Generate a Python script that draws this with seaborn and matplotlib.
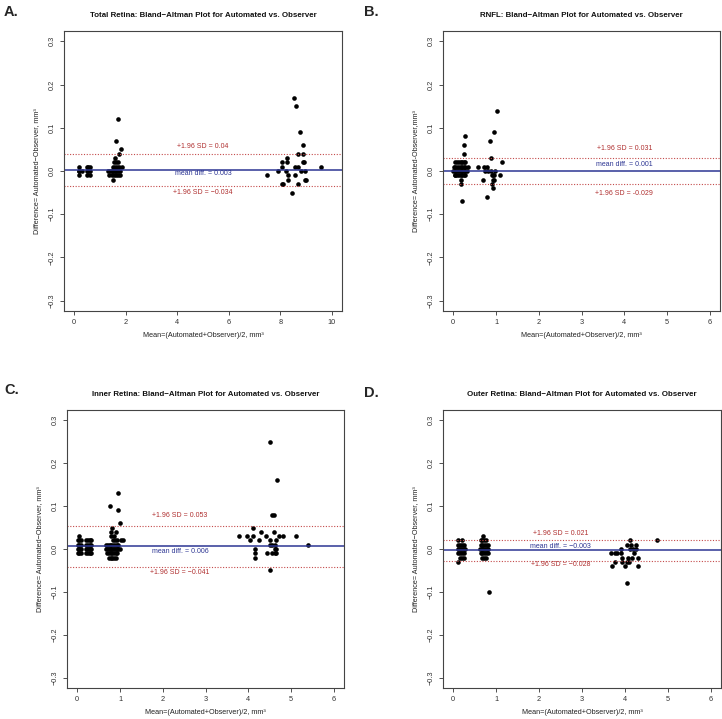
import numpy as np
import pandas as pd
import matplotlib.pyplot as plt
import seaborn as sns

# panel A - total retina
a_x = [0.2, 0.2, 0.2, 0.2, 0.3, 0.5, 0.5, 0.5, 0.55, 0.55, 0.6, 0.6, 0.6,
       1.7, 1.63, 1.8, 1.72, 1.6, 1.55, 1.62, 1.68, 1.5, 1.58, 1.65, 1.75, 1.85,
       1.3, 1.4, 1.45, 1.52, 1.57, 1.63, 1.7, 1.78, 1.35, 1.45, 1.55, 1.62, 1.7,
       1.78, 1.52,
       7.5, 7.9, 8.05, 8.05, 8.05, 8.1, 8.27, 8.27, 8.22, 8.3, 8.3, 8.47, 8.53,
       8.61, 8.58, 8.58, 8.7, 8.76, 8.9, 8.7, 8.9, 8.88, 8.93, 8.8, 8.95, 8.7,
       8.95, 9.0, 9.57]
a_y = [0.01, 0.0, 0.0, -0.01, 0.0, 0.01, 0.0, -0.01, 0.01, 0.0, 0.01, 0.0, -0.01,
       0.12, 0.07, 0.05, 0.04, 0.03, 0.02, 0.02, 0.02, 0.01, 0.01, 0.01, 0.01, 0.01,
       0.0, 0.0, 0.0, 0.0, 0.0, 0.0, 0.0, 0.0, -0.01, -0.01, -0.01, -0.01, -0.01,
       -0.01, -0.02,
       -0.01, 0.0, 0.02, 0.01, -0.03, -0.03, 0.03, 0.02, 0.0, -0.01, -0.02, -0.05, 0.17,
       0.15, -0.01, 0.01, 0.01, 0.09, 0.06, 0.04, 0.04, 0.02, 0.02, 0.0, 0.0, -0.03,
       -0.02, -0.02, 0.01]

# panel B - RNFL
b_x = [0.05, 0.09, 0.13, 0.17, 0.2, 0.24, 0.28,
       0.01, 0.05, 0.09, 0.13, 0.17, 0.2, 0.24, 0.28, 0.34,
       0.0, 0.05, 0.09, 0.13, 0.17, 0.2, 0.24, 0.28, 0.32,
       0.03, 0.05, 0.09, 0.13, 0.17, 0.2, 0.24, 0.28,
       0.17, 0.17, 0.2, 0.26, 0.25, 0.28,
       0.58, 0.69, 0.71, 0.75, 0.8, 0.8, 0.82, 0.86, 0.88, 0.88, 0.9, 0.9, 0.92,
       0.94, 0.94, 0.95, 0.96, 0.97, 0.96, 1.02, 1.1, 1.15]
b_y = [0.02, 0.02, 0.02, 0.02, 0.02, 0.02, 0.02,
       0.01, 0.01, 0.01, 0.01, 0.01, 0.01, 0.01, 0.01, 0.01,
       0.0, 0.0, 0.0, 0.0, 0.0, 0.0, 0.0, 0.0, 0.0,
       -0.01, -0.01, -0.01, -0.01, -0.01, -0.01, -0.01, -0.01,
       -0.02, -0.03, -0.07, 0.04, 0.06, 0.08,
       0.01, -0.02, 0.01, 0.0, 0.01, -0.06, 0.0, 0.07, 0.03, 0.0, -0.01, -0.03, -0.02,
       -0.04, -0.01, -0.02, 0.09, 0.0, -0.01, 0.14, -0.01, 0.02]

# panel C - inner retina
c_x = [0.05, 0.01, 0.05, 0.09, 0.01, 0.05, 0.09, 0.01, 0.05, 0.09, 0.01, 0.05, 0.09,
       0.2, 0.25, 0.29, 0.33, 0.2, 0.25, 0.29, 0.33, 0.2, 0.25, 0.29, 0.33,
       0.2, 0.25, 0.29, 0.33,
       0.76, 0.95, 0.95, 0.99, 0.81, 0.8, 0.9, 0.79, 0.86, 0.84, 0.89, 0.93, 1.03, 1.08,
       0.68, 0.72, 0.76, 0.8, 0.84, 0.88, 0.92, 0.96,
       0.68, 0.72, 0.76, 0.8, 0.84, 0.88, 0.92, 0.96, 1.0,
       0.7, 0.74, 0.78, 0.82, 0.86, 0.9, 0.94,
       0.74, 0.78, 0.82, 0.86, 0.9,
       3.78, 3.96, 4.1, 4.03, 4.25, 4.3, 4.42, 4.5, 4.68, 4.56, 4.6, 4.6, 4.52,
       4.5, 4.55, 4.45, 4.55, 4.62, 4.66, 4.62, 4.66, 4.73, 4.82, 4.66, 4.62,
       4.15, 4.15, 4.15, 4.1, 5.12, 5.39, 4.52]
c_y = [0.03, 0.02, 0.02, 0.02, 0.01, 0.01, 0.01, 0.0, 0.0, 0.0, -0.01, -0.01, -0.01,
       0.02, 0.02, 0.02, 0.02, 0.01, 0.01, 0.01, 0.01, 0.0, 0.0, 0.0, 0.0,
       -0.01, -0.01, -0.01, -0.01,
       0.1, 0.13, 0.09, 0.06, 0.05, 0.04, 0.04, 0.03, 0.03, 0.02, 0.02, 0.02, 0.02, 0.02,
       0.01, 0.01, 0.01, 0.01, 0.01, 0.01, 0.01, 0.01,
       0.0, 0.0, 0.0, 0.0, 0.0, 0.0, 0.0, 0.0, 0.0,
       -0.01, -0.01, -0.01, -0.01, -0.01, -0.01, -0.01,
       -0.02, -0.02, -0.02, -0.02, -0.02,
       0.03, 0.03, 0.03, 0.02, 0.02, 0.04, 0.03, 0.25, 0.16, 0.08, 0.08, 0.04, 0.02,
       0.01, 0.01, -0.01, -0.01, 0.0, 0.0, 0.01, 0.02, 0.03, 0.03, -0.01, -0.01,
       0.0, -0.01, -0.02, 0.05, 0.03, 0.01, -0.05]

# panel D - outer retina
d_x = [0.12, 0.2, 0.12, 0.16, 0.2, 0.24, 0.12, 0.16, 0.2, 0.24, 0.28,
       0.12, 0.16, 0.2, 0.24, 0.16, 0.2, 0.24, 0.12,
       0.7, 0.64, 0.68, 0.72, 0.76, 0.64, 0.68, 0.72, 0.76, 0.8,
       0.62, 0.66, 0.7, 0.74, 0.78, 0.82, 0.64, 0.68, 0.72, 0.76, 0.8,
       0.68, 0.72, 0.76, 0.84,
       3.68, 3.76, 3.82, 3.9, 3.71, 3.76, 3.9, 3.94, 3.94, 4.0, 4.04, 4.07, 4.1,
       4.05, 4.12, 4.15, 4.12, 4.18, 4.26, 4.17, 4.26, 4.3, 4.3, 4.22, 4.05, 4.74]
d_y = [0.02, 0.02, 0.01, 0.01, 0.01, 0.01, 0.0, 0.0, 0.0, 0.0, 0.0,
       -0.01, -0.01, -0.01, -0.01, -0.02, -0.02, -0.02, -0.03,
       0.03, 0.02, 0.02, 0.02, 0.02, 0.01, 0.01, 0.01, 0.01, 0.01,
       0.0, 0.0, 0.0, 0.0, 0.0, 0.0, -0.01, -0.01, -0.01, -0.01, -0.01,
       -0.02, -0.02, -0.02, -0.1,
       -0.01, -0.01, -0.01, -0.01, -0.04, -0.03, 0.0, -0.02, -0.03, -0.04, 0.01, -0.02, -0.03,
       -0.03, 0.02, 0.01, 0.0, 0.0, 0.0, -0.02, 0.01, -0.02, -0.04, -0.01, -0.08, 0.02]

# mean diff and limits of agreement
means = [0.003, 0.001, 0.006, -0.003]
upper = [0.04, 0.031, 0.053, 0.021]
lower = [-0.034, -0.029, -0.041, -0.028]
upper_txt = ["+1.96 SD = 0.04", "+1.96 SD = 0.031", "+1.96 SD = 0.053", "+1.96 SD = 0.021"]
mean_txt = ["mean diff. = 0.003", "mean diff. = 0.001", "mean diff. = 0.006", "mean diff. = \u22120.003"]
lower_txt = ["+1.96 SD = \u22120.034", "+1.96 SD = -0.029", "+1.96 SD = \u22120.041", "+1.96 SD = \u22120.028"]
titles = ["Total Retina: Bland\u2212Altman Plot for Automated vs. Observer",
          "RNFL: Bland\u2212Altman Plot for Automated vs. Observer",
          "Inner Retina: Bland\u2212Altman Plot for Automated vs. Observer",
          "Outer Retina: Bland\u2212Altman Plot for Automated vs. Observer"]
ylabels = ["Difference= Automated\u2212Observer, mm\u00b3",
           "Difference= Automated-Observer,mm\u00b3",
           "Difference= Automated\u2212Observer, mm\u00b3",
           "Difference= Automated\u2212Observer, mm\u00b3"]
letters = ["A.", "B.", "C.", "D."]
xmax = [10, 6, 6, 6]

sns.set_style("white")
plt.rcParams['font.family'] = ['Liberation Sans', 'DejaVu Sans']

W, H = 722, 719
fig = plt.figure(figsize=(W / 100, H / 100), dpi=100)

# boxes in pixels: left, right, top, bottom
boxes = [(64, 342, 31, 311), (443, 720, 31, 311), (67, 344, 410, 688), (443, 721, 410, 688)]
text_x = [5.0, 4.0, 2.4, 2.5]
# offsets for text relative to lines
offs = [(0.016, -0.008, -0.015), (0.021, 0.014, -0.022), (0.024, -0.012, -0.014), (0.014, 0.009, -0.008)]
letter_pos = [(4, 12), (364, 12), (4, 390), (364, 393)]

data = [(a_x, a_y), (b_x, b_y), (c_x, c_y), (d_x, d_y)]

for i in range(4):
    l, r, t, b = boxes[i]
    ax = fig.add_axes([l / W, 1 - b / H, (r - l) / W, (b - t) / H])
    df = pd.DataFrame({'mean': data[i][0], 'diff': data[i][1]})
    sns.scatterplot(data=df, x='mean', y='diff', ax=ax, color='black', s=11,
                    linewidth=0, legend=False)
    pad = xmax[i] * 0.04
    ax.set_xlim(-pad, xmax[i] + pad)
    ax.set_ylim(-0.324, 0.324)
    ax.axhline(means[i], color='#2c3593', lw=1.1)
    ax.axhline(upper[i], color='#c44a4a', lw=0.8, ls=(0, (1, 1.5)))
    ax.axhline(lower[i], color='#c44a4a', lw=0.8, ls=(0, (1, 1.5)))
    uo, mo, lo = offs[i]
    ax.text(text_x[i], upper[i] + uo, upper_txt[i], color='#b03030', fontsize=5,
            ha='center', va='center')
    ax.text(text_x[i], means[i] + mo, mean_txt[i], color='#2c3593', fontsize=5,
            ha='center', va='center')
    ax.text(text_x[i], lower[i] + lo, lower_txt[i], color='#b03030', fontsize=5,
            ha='center', va='center')
    if xmax[i] == 10:
        ax.set_xticks([0, 2, 4, 6, 8, 10])
    else:
        ax.set_xticks([0, 1, 2, 3, 4, 5, 6])
    ax.set_yticks([-0.3, -0.2, -0.1, 0.0, 0.1, 0.2, 0.3])
    ax.set_yticklabels(['\u22120.3', '\u22120.2', '\u22120.1', '0.0', '0.1', '0.2', '0.3'],
                       rotation=90, va='center')
    ax.tick_params(direction='out', length=3, width=0.6, labelsize=5.3, pad=3,
                   color='#333333', labelcolor='#333333', bottom=True, left=True)
    for sp in ax.spines.values():
        sp.set_color('#444444')
        sp.set_linewidth(0.8)
    ax.set_xlabel("Mean=(Automated+Observer)/2, mm\u00b3", fontsize=5.2, labelpad=4,
                  color='#222222')
    ax.set_ylabel(ylabels[i], fontsize=5.2, labelpad=6, color='#222222')
    ax.set_title(titles[i], fontsize=5.7, fontweight='bold', pad=10, color='#111111')
    lx, ly = letter_pos[i]
    fig.text(lx / W, 1 - ly / H, letters[i], fontsize=10.5, fontweight='bold',
             ha='left', va='center')

fig.savefig('out.png', dpi=100)
